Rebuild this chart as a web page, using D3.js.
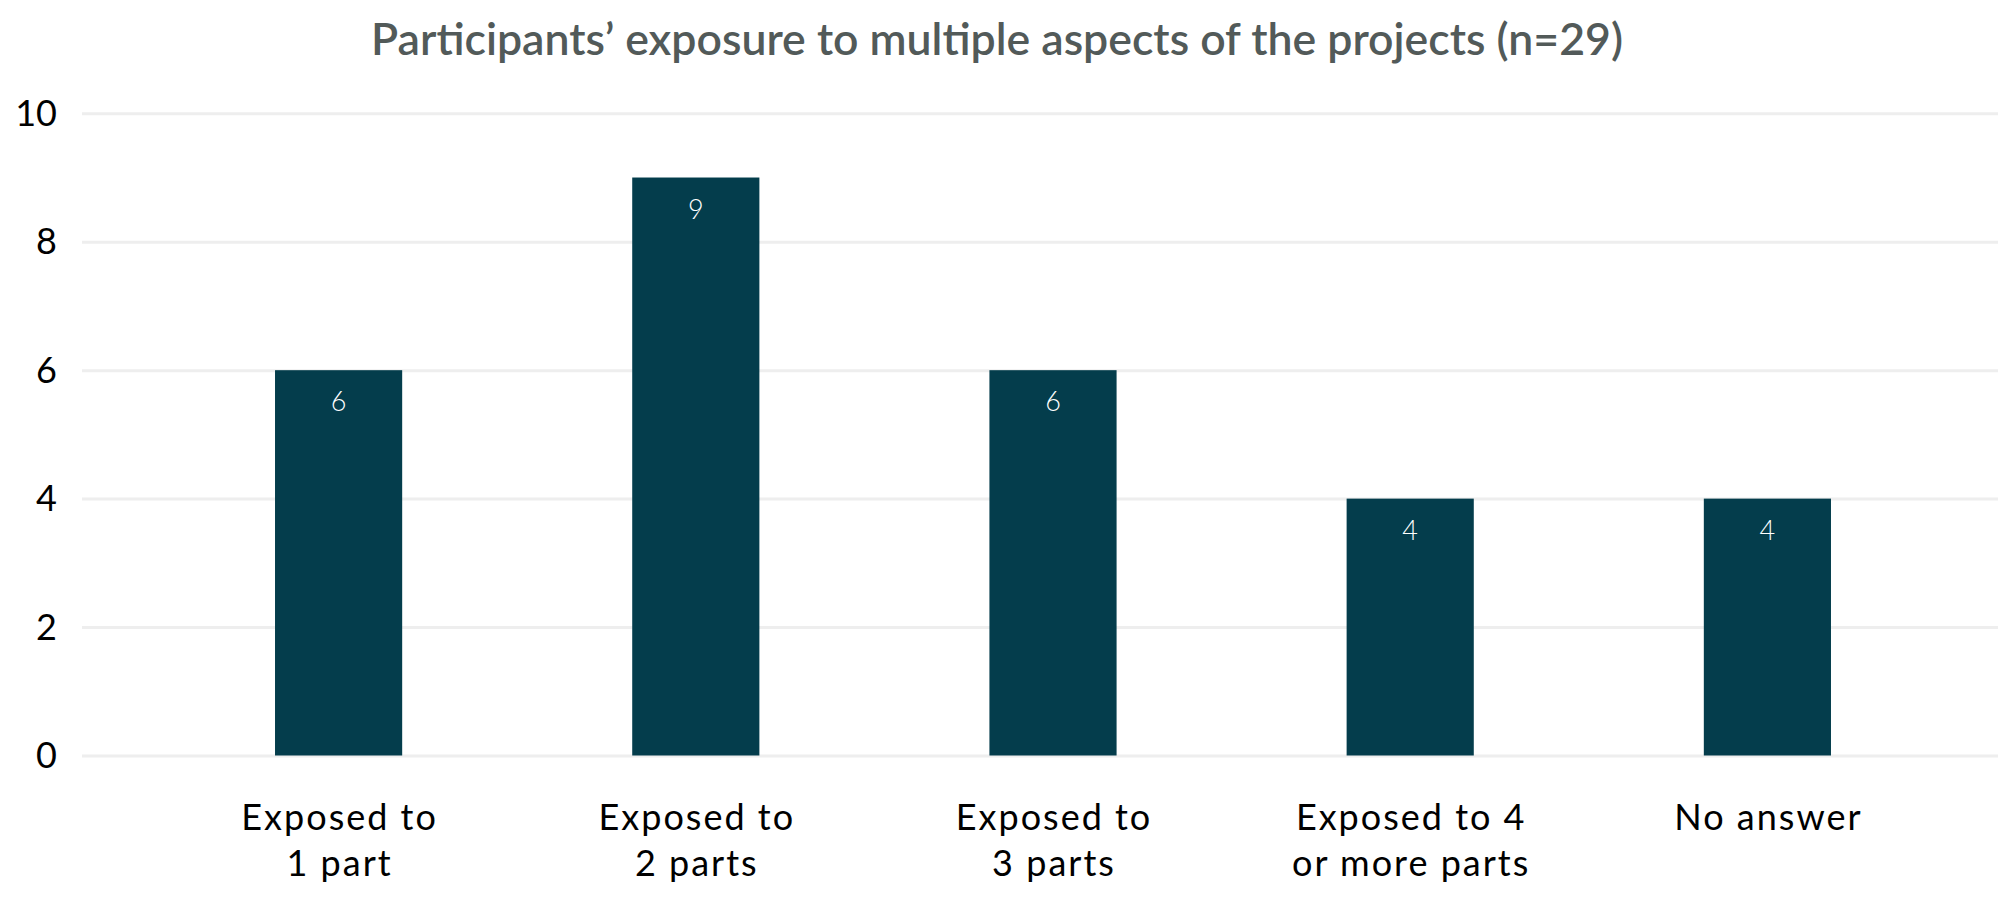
<!DOCTYPE html>
<html>
<head>
<meta charset="utf-8">
<script src="https://cdn.jsdelivr.net/npm/d3@7/dist/d3.min.js"></script>
<style>
  html, body { margin: 0; padding: 0; background: #ffffff; }
  svg { display: block; }
</style>
</head>
<body>
<svg id="chart" width="2001" height="917"></svg>
<script>
// ---- data ----
const title = "Participants\u2019 exposure to multiple aspects of the projects (n=29)";
const categories = ["Exposed to 1 part", "Exposed to 2 parts", "Exposed to 3 parts", "Exposed to 4 or more parts", "No answer"];
const categoryLines = [["Exposed to", "1 part"], ["Exposed to", "2 parts"], ["Exposed to", "3 parts"], ["Exposed to 4", "or more parts"], ["No answer"]];
const values = [6, 9, 6, 4, 4];
const yTicks = [0, 2, 4, 6, 8, 10];

// ---- layout ----
const W = 2001, H = 917;
const gridLeft = 82, gridRight = 1998;
const y0 = 755.5, y10 = 113.3;
const barColor = "#043d4c";
const font = "Lato, 'Open Sans', sans-serif";

const svg = d3.select("#chart");

const x = d3.scaleBand()
  .domain(categories)
  .range([160, 1946])
  .paddingInner(0.644)
  .paddingOuter(0.322);

const y = d3.scaleLinear().domain([0, 10]).range([y0, y10]);

// y axis with gridlines
const yAxis = d3.axisLeft(y)
  .tickValues(yTicks)
  .tickSizeInner(-(gridRight - gridLeft))
  .tickSizeOuter(0)
  .tickPadding(25);

const gy = svg.append("g")
  .attr("transform", `translate(${gridLeft},0)`)
  .call(yAxis);
gy.select(".domain").remove();
gy.selectAll(".tick line")
  .attr("stroke", "#eeeeee")
  .attr("stroke-width", 3);
gy.selectAll(".tick text")
  .attr("fill", "#000000")
  .style("font-family", font)
  .style("font-size", "36px")
  .attr("dy", "0.34em");

// bars
svg.append("g").selectAll("rect")
  .data(values)
  .join("rect")
  .attr("x", (d, i) => x(categories[i]))
  .attr("y", d => y(d))
  .attr("width", x.bandwidth())
  .attr("height", d => y(0) - y(d))
  .attr("fill", barColor);

// value labels
svg.append("g").selectAll("text")
  .data(values)
  .join("text")
  .attr("x", (d, i) => x(categories[i]) + x.bandwidth() / 2)
  .attr("y", d => y(d) + 41)
  .attr("text-anchor", "middle")
  .attr("fill", "#ffffff")
  .style("font-family", font)
  .style("font-weight", 300)
  .style("font-size", "27px")
  .text(d => d);

// category labels
const cl = svg.append("g").selectAll("text")
  .data(categoryLines)
  .join("text")
  .attr("text-anchor", "middle")
  .attr("fill", "#000000")
  .style("font-family", font)
  .style("font-size", "36px")
  .style("letter-spacing", "2px");
cl.each(function(lines, i) {
  const t = d3.select(this);
  lines.forEach((ln, j) => {
    t.append("tspan")
      .attr("x", x(categories[i]) + x.bandwidth() / 2 + 1)
      .attr("y", 830 + j * 46)
      .text(ln);
  });
});

// title
const tt = svg.append("text")
  .attr("x", 997)
  .attr("y", 55)
  .attr("text-anchor", "middle")
  .attr("fill", "#525a59")
  .style("font-family", font)
  .style("font-weight", 600)
  .style("font-size", "40px")
  .text(title);
const tw = tt.node().getComputedTextLength();
tt.style("font-size", (40 * 1252 / tw).toFixed(2) + "px");
</script>
</body>
</html>
